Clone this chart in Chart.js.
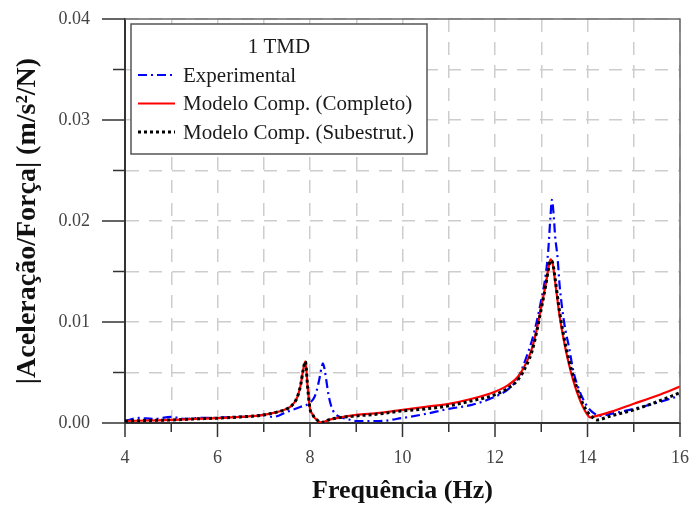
<!DOCTYPE html>
<html lang="pt">
<head>
<meta charset="UTF-8">
<title>FRF 1 TMD</title>
<script src="https://cdn.jsdelivr.net/npm/chart.js@4.4.1/dist/chart.umd.min.js"></script>
<style>
    * { margin: 0; padding: 0; box-sizing: border-box; }
    body { background: #ffffff; }
    canvas { display: block; }
</style>
</head>
<body>
<canvas id="frf" width="691" height="509"></canvas>
<script>
    // Experimental curve
    const freqExp = [4, 4.3, 4.6, 5, 5.3, 5.6, 6, 6.3, 6.6, 7, 7.2, 7.5, 7.8, 8.0, 8.1, 8.15, 8.2, 8.25, 8.28, 8.32,
        8.36, 8.4, 8.45, 8.5, 8.6, 8.8, 9, 9.5, 10, 10.5, 11, 11.5, 12, 12.3, 12.5, 12.7, 12.8, 12.9, 13.0, 13.1,
        13.15, 13.2, 13.23, 13.27, 13.3, 13.35, 13.4, 13.5, 13.6, 13.7, 13.8, 13.9, 14.0, 14.1, 14.2, 14.25, 14.5, 15, 15.5, 16];
    const accExp = [0.0002, 0.0005, 0.0004, 0.0006, 0.0004, 0.0005, 0.0005, 0.0006, 0.0006, 0.0008, 0.0006, 0.0011, 0.0016, 0.0020, 0.0026, 0.0033, 0.0043, 0.0055, 0.0059, 0.0052,
        0.0040, 0.0028, 0.0018, 0.0012, 0.0007, 0.0004, 0.0002, 0.0002, 0.0005, 0.0009, 0.0014, 0.0018, 0.0026, 0.0034, 0.0045, 0.0068, 0.0082, 0.0100, 0.0122, 0.0148,
        0.0170, 0.0205, 0.0221, 0.0205, 0.0185, 0.0165, 0.0135, 0.0098, 0.0075, 0.0050, 0.0035, 0.0024, 0.0016, 0.0011, 0.0008, 0.0007, 0.0009, 0.0014, 0.0020, 0.0027];

    // Numerical models
    const freqMod = [4, 4.5, 5, 5.5, 6, 6.5, 7, 7.3, 7.5, 7.6, 7.7, 7.75, 7.8, 7.85, 7.9, 7.95, 8.0, 8.05, 8.1, 8.15,
        8.2, 8.25, 8.3, 8.4, 8.6, 9, 9.5, 10, 10.5, 11, 11.5, 12, 12.3, 12.5, 12.7, 12.8, 12.9, 13.0, 13.1, 13.15,
        13.2, 13.25, 13.3, 13.4, 13.5, 13.6, 13.7, 13.8, 13.9, 14.0, 14.05, 14.1, 14.2, 14.5, 15, 15.5, 16];
    const accCompleto = [0.0002, 0.00025, 0.0003, 0.0004, 0.00048, 0.0006, 0.0008, 0.0011, 0.0014, 0.0017, 0.0023, 0.0029, 0.0038, 0.0052, 0.0061, 0.0035, 0.0014, 0.0009, 0.0005, 0.0003,
        0.00012, 0.00005, 0.0001, 0.0003, 0.0005, 0.0008, 0.001, 0.0013, 0.0016, 0.0019, 0.0024, 0.0031, 0.0038, 0.0046, 0.0062, 0.0074, 0.0092, 0.0115, 0.0138, 0.0152,
        0.0162, 0.0157, 0.0140, 0.0105, 0.0079, 0.0058, 0.0041, 0.0027, 0.0016, 0.0008, 0.00056, 0.0006, 0.0007, 0.0011, 0.0019, 0.0027, 0.0036];
    const accSubestrut = [0.0002, 0.00025, 0.0003, 0.0004, 0.00048, 0.0006, 0.0008, 0.0011, 0.0014, 0.0017, 0.0023, 0.0029, 0.0038, 0.0052, 0.0061, 0.0035, 0.0014, 0.0009, 0.0005, 0.0003,
        0.00012, 0.00005, 0.0001, 0.0003, 0.0005, 0.0007, 0.0009, 0.0012, 0.0014, 0.0017, 0.0022, 0.0028, 0.0035, 0.0043, 0.0059, 0.0071, 0.0090, 0.0113, 0.0137, 0.0151,
        0.0161, 0.0158, 0.0143, 0.0109, 0.0083, 0.0062, 0.0045, 0.0031, 0.0019, 0.0011, 0.0008, 0.0006, 0.0003, 0.0007, 0.0013, 0.0021, 0.0030];

    const seriesLabels = ['Experimental', 'Modelo Comp. (Completo)', 'Modelo Comp. (Subestrut.)'];
    const legendTitle = '1 TMD';
    const xTitle = 'Frequência (Hz)';
    const yTitle = '|Aceleração/Força| (m/s²/N)';

    const serif = '"Liberation Serif", "Times New Roman", serif';
    const zip = (xs, ys) => xs.map((x, i) => ({ x: x, y: ys[i] }));

    // legend drawn inside the plot, with a title and a frame
    const boxLegend = {
        id: 'boxLegend',
        afterDatasetsDraw(chart) {
            const ctx = chart.ctx;
            const a = chart.chartArea;
            const x0 = a.left + 6, y0 = a.top + 5, w = 296, h = 130;
            ctx.save();
            ctx.fillStyle = '#ffffff';
            ctx.fillRect(x0, y0, w, h);
            ctx.strokeStyle = '#555555';
            ctx.lineWidth = 1.5;
            ctx.strokeRect(x0, y0, w, h);

            ctx.fillStyle = '#1a1a1a';
            ctx.font = '21px ' + serif;
            ctx.textBaseline = 'middle';
            ctx.textAlign = 'center';
            ctx.fillText(legendTitle, x0 + w / 2, y0 + 23);

            ctx.textAlign = 'left';
            [0, 1, 2].forEach((di, i) => {
                const ds = chart.data.datasets[di];
                const yy = y0 + 51 + i * 28.5;
                ctx.save();
                ctx.strokeStyle = ds.borderColor;
                ctx.lineWidth = ds.borderWidth;
                ctx.setLineDash(ds.borderDash || []);
                ctx.beginPath();
                ctx.moveTo(x0 + 7, yy);
                ctx.lineTo(x0 + 44, yy);
                ctx.stroke();
                ctx.restore();
                ctx.fillText(ds.label, x0 + 52, yy + 1);
            });
            ctx.restore();
        }
    };

    // outer ticks (long on major, short on minor) and the top/right frame
    const frameTicks = {
        id: 'frameTicks',
        afterDraw(chart) {
            const ctx = chart.ctx;
            const a = chart.chartArea;
            const xs = chart.scales.x, ys = chart.scales.y;
            ctx.save();
            ctx.strokeStyle = '#6a6a6a';
            ctx.lineWidth = 1.5;
            ctx.beginPath();
            ctx.moveTo(a.left, a.top);
            ctx.lineTo(a.right, a.top);
            ctx.lineTo(a.right, a.bottom);
            ctx.stroke();

            ctx.strokeStyle = '#333333';
            ctx.lineWidth = 1.5;
            ctx.beginPath();
            xs.ticks.forEach(t => {
                const px = xs.getPixelForValue(t.value);
                const len = Math.round(t.value) % 2 === 0 ? 14 : 9;
                ctx.moveTo(px, a.bottom);
                ctx.lineTo(px, a.bottom + len);
            });
            ys.ticks.forEach(t => {
                const py = ys.getPixelForValue(t.value);
                const len = Math.round(t.value * 1000) % 10 === 0 ? 23 : 12;
                ctx.moveTo(a.left, py);
                ctx.lineTo(a.left - len, py);
            });
            ctx.stroke();
            ctx.restore();
        }
    };

    // the library's own ticks are kept invisible; their length only spaces the labels
    const gridX = { color: '#cdcdcd', lineWidth: 1.5, drawTicks: true, tickLength: 24, tickColor: 'rgba(0,0,0,0)' };
    const gridY = { color: '#cdcdcd', lineWidth: 1.5, drawTicks: true, tickLength: 35, tickColor: 'rgba(0,0,0,0)' };
    const borderOpts = { color: '#333333', width: 2, dash: [13, 10] };

    new Chart(document.getElementById('frf'), {
        type: 'line',
        data: {
            datasets: [
                {
                    label: seriesLabels[0],
                    data: zip(freqExp, accExp),
                    borderColor: '#0000ff',
                    borderWidth: 2.2,
                    borderDash: [9, 4, 2, 4],
                    order: 3
                },
                {
                    label: seriesLabels[1],
                    data: zip(freqMod, accCompleto),
                    borderColor: '#ff0000',
                    borderWidth: 2.2,
                    order: 2
                },
                {
                    label: seriesLabels[2],
                    data: zip(freqMod, accSubestrut),
                    borderColor: '#000000',
                    borderWidth: 3,
                    borderDash: [3, 3],
                    order: 1
                }
            ]
        },
        options: {
            responsive: false,
            animation: false,
            parsing: false,
            elements: {
                point: { radius: 0 },
                line: { cubicInterpolationMode: 'monotone', fill: false }
            },
            layout: { padding: { top: 19, right: 11, left: 0, bottom: 0 } },
            scales: {
                x: {
                    type: 'linear',
                    min: 4,
                    max: 16,
                    afterFit: s => { s.height = 86; },
                    ticks: {
                        stepSize: 1,
                        autoSkip: false,
                        maxRotation: 0,
                        padding: 0,
                        color: '#444444',
                        font: { family: serif, size: 18 },
                        callback: v => (Math.round(v) % 2 === 0 ? String(v) : '')
                    },
                    grid: gridX,
                    border: borderOpts,
                    title: {
                        display: true,
                        text: xTitle,
                        color: '#111111',
                        font: { family: serif, size: 26, weight: 'bold' },
                        padding: { top: 0, bottom: 2 }
                    }
                },
                y: {
                    type: 'linear',
                    min: 0,
                    max: 0.04,
                    afterFit: s => { s.width = 125; },
                    ticks: {
                        stepSize: 0.005,
                        autoSkip: false,
                        padding: 0,
                        color: '#444444',
                        font: { family: serif, size: 18 },
                        callback: v => (Math.round(v * 1000) % 10 === 0 ? v.toFixed(2) : '')
                    },
                    grid: gridY,
                    border: borderOpts,
                    title: {
                        display: true,
                        text: yTitle,
                        color: '#111111',
                        font: { family: serif, size: 28, weight: 'bold' },
                        padding: { top: 11, bottom: 0 }
                    }
                }
            },
            plugins: {
                legend: { display: false },
                tooltip: { enabled: false }
            }
        },
        plugins: [boxLegend, frameTicks]
    });
</script>
</body>
</html>
